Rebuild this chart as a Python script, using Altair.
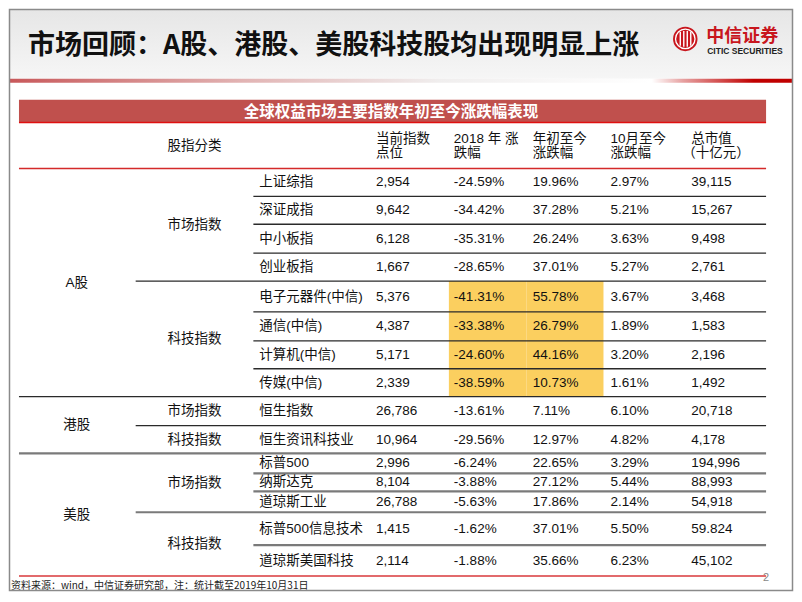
import altair as alt
import pandas as pd

# ---------------- data ----------------
slide_title = "市场回顾：A股、港股、美股科技股均出现明显上涨"
brand_cn = "中信证券"
brand_en = "CITIC SECURITIES"
table_title = "全球权益市场主要指数年初至今涨跌幅表现"
group_header = "股指分类"
col_head_1 = ["当前指数", "2018 年 涨", "年初至今", "10月至今", "总市值"]
col_head_2 = ["点位", "跌幅", "涨跌幅", "涨跌幅", "（十亿元）"]

market_of_row = ["A股"] * 8 + ["港股"] * 2 + ["美股"] * 5
category_of_row = (["市场指数"] * 4 + ["科技指数"] * 4 + ["市场指数", "科技指数"]
                   + ["市场指数"] * 3 + ["科技指数"] * 2)
index_names = ["上证综指", "深证成指", "中小板指", "创业板指",
               "电子元器件(中信)", "通信(中信)", "计算机(中信)", "传媒(中信)",
               "恒生指数", "恒生资讯科技业",
               "标普500", "纳斯达克", "道琼斯工业", "标普500信息技术", "道琼斯美国科技"]
current_level = ["2,954", "9,642", "6,128", "1,667", "5,376", "4,387", "5,171", "2,339",
                 "26,786", "10,964", "2,996", "8,104", "26,788", "1,415", "2,114"]
chg_2018 = ["-24.59%", "-34.42%", "-35.31%", "-28.65%", "-41.31%", "-33.38%", "-24.60%", "-38.59%",
            "-13.61%", "-29.56%", "-6.24%", "-3.88%", "-5.63%", "-1.62%", "-1.88%"]
chg_ytd = ["19.96%", "37.28%", "26.24%", "37.01%", "55.78%", "26.79%", "44.16%", "10.73%",
           "7.11%", "12.97%", "22.65%", "27.12%", "17.86%", "37.01%", "35.66%"]
chg_oct = ["2.97%", "5.21%", "3.63%", "5.27%", "3.67%", "1.89%", "3.20%", "1.61%",
           "6.10%", "4.82%", "3.29%", "5.44%", "2.14%", "5.50%", "6.23%"]
market_cap = ["39,115", "15,267", "9,498", "2,761", "3,468", "1,583", "2,196", "1,492",
              "20,718", "4,178", "194,996", "88,993", "54,918", "59.824", "45,102"]
highlight_rows = [4, 5, 6, 7]          # rows with highlighted 2018 / YTD cells
highlight_cols = [1, 2]
source_note = "资料来源：wind，中信证券研究部，注：统计截至2019年10月31日"
page_no = "2"

# ---------------- layout (reference pixel space) ----------------
W, H = 786, 584
X0, Y0 = 8, 8
TL, TR = 18, 767                 # table left / right
row_top = 168
row_bottoms = [196, 224, 253, 281, 312, 341, 369, 397, 426, 454, 474, 492, 513, 546, 577]
col_x = [376, 454, 533, 611, 692]
col_x2 = [376, 454, 533, 611, 683]
col_edges = [449, 527, 604]
X_MARKET, X_CAT, X_NAME = 76, 194, 259
LINE_CAT, LINE_NAME = 135, 253

FONT = "Liberation Sans, Noto Sans CJK SC, sans-serif"
CJK = "Noto Sans CJK SC, sans-serif"

xs = alt.Scale(domain=[X0, X0 + W], nice=False, zero=False)
ys = alt.Scale(domain=[Y0, Y0 + H], nice=False, zero=False, reverse=True)

tops = [row_top] + row_bottoms[:-1]
centers = [(a + b) / 2 for a, b in zip(tops, row_bottoms)]


def text_layer(rows, size, weight="normal", color="#111111", align="left", font=FONT):
    df = pd.DataFrame(rows, columns=["x", "y", "t"])
    return alt.Chart(df).mark_text(
        align=align, baseline="middle", fontSize=size, fontWeight=weight,
        color=color, font=font
    ).encode(x=alt.X("x:Q", scale=xs, axis=None),
             y=alt.Y("y:Q", scale=ys, axis=None),
             text="t:N")


def rule_layer(rows):
    df = pd.DataFrame(rows, columns=["x", "x2", "y", "c", "w"])
    return alt.Chart(df).mark_rule().encode(
        x=alt.X("x:Q", scale=xs, axis=None), x2="x2:Q",
        y=alt.Y("y:Q", scale=ys, axis=None),
        color=alt.Color("c:N", scale=None),
        strokeWidth=alt.StrokeWidth("w:Q", scale=None))


def rect_layer(rows, **mark):
    df = pd.DataFrame(rows, columns=["x", "x2", "y", "y2"])
    return alt.Chart(df).mark_rect(**mark).encode(
        x=alt.X("x:Q", scale=xs, axis=None), x2="x2:Q",
        y=alt.Y("y:Q", scale=ys, axis=None), y2="y2:Q")


layers = []

# header band + gradient line
layers.append(rect_layer([[X0, X0 + W, Y0, 78]], color=alt.LinearGradient(
    gradient="linear", x1=0, x2=0, y1=0, y2=1,
    stops=[alt.GradientStop(color="#e6e6e6", offset=0),
           alt.GradientStop(color="#f6f6f6", offset=1)])))
layers.append(rect_layer([[X0, X0 + W, 78, 82]], color=alt.LinearGradient(
    gradient="linear", x1=0, x2=1, y1=0, y2=0,
    stops=[alt.GradientStop(color="#c8585a", offset=0),
           alt.GradientStop(color="#e2b4b4", offset=0.3),
           alt.GradientStop(color="#f0eeee", offset=0.55),
           alt.GradientStop(color="#ffffff", offset=0.82),
           alt.GradientStop(color="#e6a0a0", offset=0.86),
           alt.GradientStop(color="#c00000", offset=0.95),
           alt.GradientStop(color="#c00000", offset=1)])))

# title & logo
layers.append(text_layer([[27, 45, slide_title]], 27, "bold", "#111111", font=CJK))
logo = pd.DataFrame({"x": [686], "y": [38]})
layers.append(alt.Chart(logo).mark_point(shape="circle", filled=True, size=600, color="#c8161d", opacity=1).encode(
    x=alt.X("x:Q", scale=xs, axis=None), y=alt.Y("y:Q", scale=ys, axis=None)))
layers.append(alt.Chart(logo).mark_point(shape="circle", filled=False, size=380, color="#ffffff", strokeWidth=1.3, opacity=1).encode(
    x=alt.X("x:Q", scale=xs, axis=None), y=alt.Y("y:Q", scale=ys, axis=None)))
bars = pd.DataFrame({"x": [681, 684.5, 688, 691.5], "y": [31, 30, 30, 31], "y2": [45, 46, 46, 45]})
layers.append(alt.Chart(bars).mark_rule(color="#ffffff", strokeWidth=1.4).encode(
    x=alt.X("x:Q", scale=xs, axis=None), y=alt.Y("y:Q", scale=ys, axis=None), y2="y2:Q"))
layers.append(text_layer([[707, 36, brand_cn]], 18, "bold", "#c8161d", font=CJK))
layers.append(text_layer([[708, 50, brand_en]], 8.5, "bold", "#222222",
                         font="Liberation Sans Narrow, Liberation Sans, sans-serif"))

# table title bar
layers.append(rect_layer([[TL, TR, 99, 122]], color="#c0504d"))
layers.append(rule_layer([[TL, TR, 122, "#e01010", 1.5]]))
layers.append(text_layer([[391, 111, table_title]], 15.5, "bold", "#ffffff", align="center", font=CJK))

# highlight cells
hl = [[col_edges[c - 1], col_edges[c], tops[min(highlight_rows)], row_bottoms[max(highlight_rows)]]
      for c in highlight_cols]
layers.append(rect_layer(hl, color="#fbcf5f"))

# column headers
hdr = [[col_x[i], 138, col_head_1[i]] for i in range(5)]
hdr += [[col_x2[i], 152, col_head_2[i]] for i in range(5)]
layers.append(text_layer(hdr, 13.5))

# grid lines
rules = [[TL, TR, row_top, "#d42a2a", 1.5]]
for i, yb in enumerate(row_bottoms):
    last = i == len(row_bottoms) - 1
    nxt_market = last or market_of_row[i + 1] != market_of_row[i]
    nxt_cat = last or nxt_market or category_of_row[i + 1] != category_of_row[i]
    x_start = TL if nxt_market else (LINE_CAT if nxt_cat else LINE_NAME)
    if last:
        col, w = "#d8393b", 1.5
    elif market_of_row[i] == "美股" or (nxt_market and market_of_row[i] == "港股"):
        col, w = "#7a7a7a", 2.2
    else:
        col, w = "#2a2a2a", 1.3
    rules.append([x_start, TR, yb, col, w])
layers.append(rule_layer(rules))

# body text
body = []
for i in range(len(index_names)):
    y = centers[i]
    body.append([X_NAME, y, index_names[i]])
    for j, v in enumerate([current_level[i], chg_2018[i], chg_ytd[i], chg_oct[i], market_cap[i]]):
        body.append([col_x[j], y, v])
layers.append(text_layer(body, 13.5))

# category & market labels (centred)
centred = [[X_CAT, 145, group_header]]
seen = {}
for i in range(len(index_names)):
    key = (market_of_row[i], category_of_row[i])
    seen.setdefault(key, [i, i])[1] = i
for (m, c), (a, b) in seen.items():
    centred.append([X_CAT, (tops[a] + row_bottoms[b]) / 2, c])
mk = {}
for i, m in enumerate(market_of_row):
    mk.setdefault(m, [i, i])[1] = i
centred += [[X_MARKET, (tops[a] + row_bottoms[b]) / 2, m] for m, (a, b) in mk.items()]
layers.append(text_layer(centred, 13.5, align="center"))

# footer
layers.append(text_layer([[10, 587, source_note]], 10, color="#222222", font=CJK))
layers.append(text_layer([[767, 579, page_no]], 11, color="#888888", align="center"))

# slide frame
layers.append(rect_layer([[X0 + 0.5, X0 + W - 0.5, Y0 + 0.5, Y0 + H - 0.5]],
                         filled=False, stroke="#8a8a8a", strokeWidth=1.5))

chart = alt.layer(*layers).properties(
    width=W, height=H, padding=0,
    autosize=alt.AutoSizeParams(type="fit", contains="padding"),
    background="#ffffff"
).configure_view(stroke=None)

chart.save("out.html", embed_options={"renderer": "svg", "actions": False})
